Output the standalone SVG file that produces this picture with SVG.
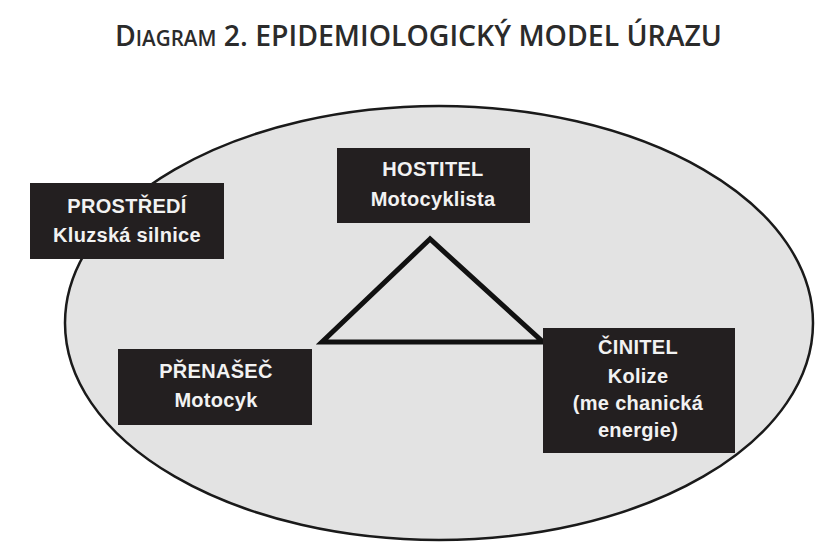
<svg xmlns="http://www.w3.org/2000/svg" width="831" height="542" viewBox="0 0 831 542">
<style>
.title{font-family:"Open Sans","Liberation Sans",sans-serif;font-weight:600;fill:#2b2b2b}
.box{fill:#231f20}
.lbl{font-family:"Liberation Sans",Arial,sans-serif;font-weight:bold;font-size:20px;fill:#f2f2f2;text-anchor:middle;letter-spacing:0.3px}
</style>
<rect width="831" height="542" fill="#ffffff"/>
<text class="title" x="115" y="46" font-size="29" textLength="607" lengthAdjust="spacingAndGlyphs">D<tspan font-size="21">IAGRAM</tspan> 2. EPIDEMIOLOGICKÝ MODEL ÚRAZU</text>
<ellipse id="environment" cx="439" cy="323" rx="374" ry="217" fill="#e3e3e3" stroke="#1a1a1a" stroke-width="2.5"/>
<g id="connectors">
<polygon points="430,239 322,342 543,342" fill="none" stroke="#111" stroke-width="5" stroke-linejoin="miter"/>
</g>
<g id="prostredi">
<rect class="box" x="30" y="183" width="194" height="76"/>
<text class="lbl" x="127" y="213">PROSTŘEDÍ</text>
<text class="lbl" x="127" y="242">Kluzská silnice</text>
</g>
<g id="hostitel">
<rect class="box" x="337" y="148" width="193" height="75"/>
<text class="lbl" x="433" y="176">HOSTITEL</text>
<text class="lbl" x="433" y="206">Motocyklista</text>
</g>
<g id="prenasec">
<rect class="box" x="118" y="349" width="194" height="76"/>
<text class="lbl" x="216" y="378">PŘENAŠEČ</text>
<text class="lbl" x="216" y="407">Motocyk</text>
</g>
<g id="cinitel">
<rect class="box" x="543" y="328" width="192" height="125"/>
<text class="lbl" x="638" y="354">ČINITEL</text>
<text class="lbl" x="638" y="383">Kolize</text>
<text class="lbl" x="638" y="410">(me chanická</text>
<text class="lbl" x="638" y="437">energie)</text>
</g>
</svg>
